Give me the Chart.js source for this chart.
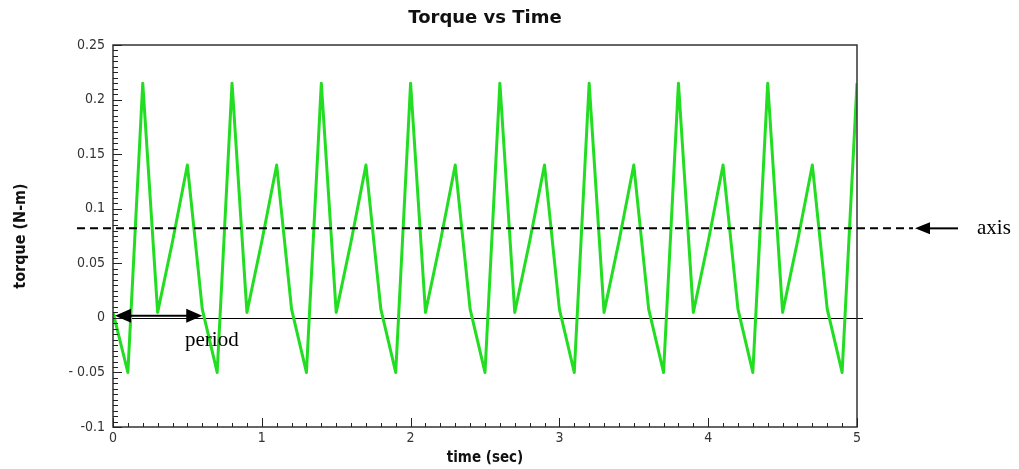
<!DOCTYPE html>
<html>
<head>
<meta charset="utf-8">
<script src="https://cdn.jsdelivr.net/npm/chart.js@4"></script>
<style>
  body { margin: 0; background: #fff; }
  canvas { display: block; }
</style>
</head>
<body>
<canvas id="myChart" width="1019" height="469"></canvas>
<script>
const times = [0, 0.1, 0.2, 0.3, 0.4, 0.5, 0.6, 0.7, 0.8, 0.9,
    1.0, 1.1, 1.2, 1.3, 1.4, 1.5, 1.6, 1.7, 1.8, 1.9,
    2.0, 2.1, 2.2, 2.3, 2.4, 2.5, 2.6, 2.7, 2.8, 2.9,
    3.0, 3.1, 3.2, 3.3, 3.4, 3.5, 3.6, 3.7, 3.8, 3.9,
    4.0, 4.1, 4.2, 4.3, 4.4, 4.5, 4.6, 4.7, 4.8, 4.9, 5.0]
const torque = [0.005, -0.05, 0.215, 0.005, 0.07, 0.14, 0.008, -0.05, 0.215, 0.005,
    0.07, 0.14, 0.008, -0.05, 0.215, 0.005, 0.07, 0.14, 0.008, -0.05,
    0.215, 0.005, 0.07, 0.14, 0.008, -0.05, 0.215, 0.005, 0.07, 0.14,
    0.008, -0.05, 0.215, 0.005, 0.07, 0.14, 0.008, -0.05, 0.215, 0.005,
    0.07, 0.14, 0.008, -0.05, 0.215, 0.005, 0.07, 0.14, 0.008, -0.05, 0.215]

const xTicks = [0, 1, 2, 3, 4, 5]
const xTickLabels = ['0', '1', '2', '3', '4', '5']
const yTicks = [-0.1, -0.05, 0, 0.05, 0.1, 0.15, 0.2, 0.25]
const yTickLabels = ['-0.1', '- 0.05', '0', '0.05', '0.1', '0.15', '0.2', '0.25']

// annotations drawn on top of the plot
const axisLevel = 0.082
const periodStart = 0
const periodEnd = 0.6

const tickFont = { family: 'DejaVu Sans Condensed', size: 14 }

const arrowHead = (c, x, y, dir, len, half) => {
    c.beginPath()
    c.moveTo(x, y)
    c.lineTo(x - dir * len, y - half)
    c.lineTo(x - dir * len, y + half)
    c.closePath()
    c.fill()
}

const decor = {
    id: 'decor',
    beforeDatasetsDraw(chart) {
        const { ctx: c, chartArea: a, scales: { x, y } } = chart
        c.save()
        // zero line
        c.strokeStyle = '#000'
        c.lineWidth = 1
        const y0 = Math.round(y.getPixelForValue(0)) + 0.5
        c.beginPath()
        c.moveTo(a.left, y0)
        c.lineTo(a.right + 6, y0)
        c.stroke()
        c.restore()
    },
    afterDraw(chart) {
        const { ctx: c, chartArea: a, scales: { x, y } } = chart
        c.save()
        // frame
        c.strokeStyle = '#333'
        c.lineWidth = 1.5
        c.strokeRect(a.left, a.top, a.right - a.left, a.bottom - a.top)

        // minor ticks inside the frame
        c.lineWidth = 1
        c.strokeStyle = '#222'
        for (let i = 0; i <= 70; i++) {
            const v = -0.1 + i * 0.005
            const py = Math.round(y.getPixelForValue(v)) + 0.5
            const len = i % 10 === 0 ? 9 : 5
            c.beginPath()
            c.moveTo(a.left, py)
            c.lineTo(a.left + len, py)
            c.stroke()
        }
        for (let i = 0; i <= 50; i++) {
            const px = Math.round(x.getPixelForValue(i * 0.1)) + 0.5
            const len = i % 10 === 0 ? 9 : 4
            c.beginPath()
            c.moveTo(px, a.bottom)
            c.lineTo(px, a.bottom - len)
            c.stroke()
        }

        // title
        c.fillStyle = '#111'
        c.font = 'bold 18px "DejaVu Sans"'
        c.textAlign = 'center'
        c.textBaseline = 'middle'
        c.fillText('Torque vs Time', (a.left + a.right) / 2, 18)

        // dashed "axis" line
        const ya = y.getPixelForValue(axisLevel)
        c.strokeStyle = '#000'
        c.lineWidth = 2
        c.setLineDash([8, 5])
        c.beginPath()
        c.moveTo(77, ya)
        c.lineTo(913, ya)
        c.stroke()
        c.setLineDash([])
        c.fillStyle = '#000'
        arrowHead(c, 915, ya, -1, 15, 6)
        c.beginPath()
        c.moveTo(928, ya)
        c.lineTo(958, ya)
        c.stroke()
        c.font = '21px "Liberation Serif"'
        c.textAlign = 'left'
        c.fillText('axis', 977, ya)

        // period arrow
        const yp = y.getPixelForValue(0) - 2
        const x1 = x.getPixelForValue(periodStart) + 2
        const x2 = x.getPixelForValue(periodEnd)
        c.beginPath()
        c.moveTo(x1 + 12, yp)
        c.lineTo(x2 - 12, yp)
        c.stroke()
        arrowHead(c, x1, yp, -1, 16, 7)
        arrowHead(c, x2, yp, 1, 16, 7)
        c.fillText('period', 185, yp + 25)
        c.restore()
    }
}

let ctx = document.getElementById('myChart')

new Chart(ctx, {
    type: 'line',
    data: {
        labels: times,
        datasets: [{
            label: 'torque',
            data: times.map((t, i) => ({ x: t, y: torque[i] })),
            borderColor: '#22dd22',
            borderWidth: 3,
            borderJoinStyle: 'round',
            pointRadius: 0,
            tension: 0,
            fill: false
        }]
    },
    options: {
        responsive: false,
        animation: false,
        devicePixelRatio: 1,
        layout: {
            padding: { left: 0, right: 162, top: 45, bottom: 0 }
        },
        plugins: {
            legend: { display: false },
            tooltip: { enabled: false }
        },
        scales: {
            x: {
                type: 'linear',
                min: 0,
                max: 5,
                grid: { display: false, drawTicks: false },
                border: { display: false },
                afterBuildTicks: (s) => { s.ticks = xTicks.map(v => ({ value: v })) },
                afterFit: (s) => { s.height = 42 },
                ticks: {
                    padding: 3,
                    maxRotation: 0,
                    color: '#333',
                    font: tickFont,
                    callback: (v) => xTickLabels[xTicks.indexOf(v)]
                },
                title: {
                    display: true,
                    text: 'time (sec)',
                    color: '#111',
                    font: { family: 'DejaVu Sans Condensed', size: 15, weight: 'bold' },
                    padding: 2
                }
            },
            y: {
                min: -0.1,
                max: 0.25,
                grid: { display: false, drawTicks: false },
                border: { display: false },
                afterBuildTicks: (s) => { s.ticks = yTicks.map(v => ({ value: v })) },
                afterFit: (s) => { s.width = 113 },
                ticks: {
                    padding: 8,
                    color: '#333',
                    font: tickFont,
                    callback: (v) => yTickLabels[yTicks.indexOf(v)]
                },
                title: {
                    display: true,
                    text: 'torque (N-m)',
                    color: '#111',
                    font: { family: 'DejaVu Sans Condensed', size: 16, weight: 'bold' },
                    padding: 11
                }
            }
        }
    },
    plugins: [decor]
});
</script>
</body>
</html>
